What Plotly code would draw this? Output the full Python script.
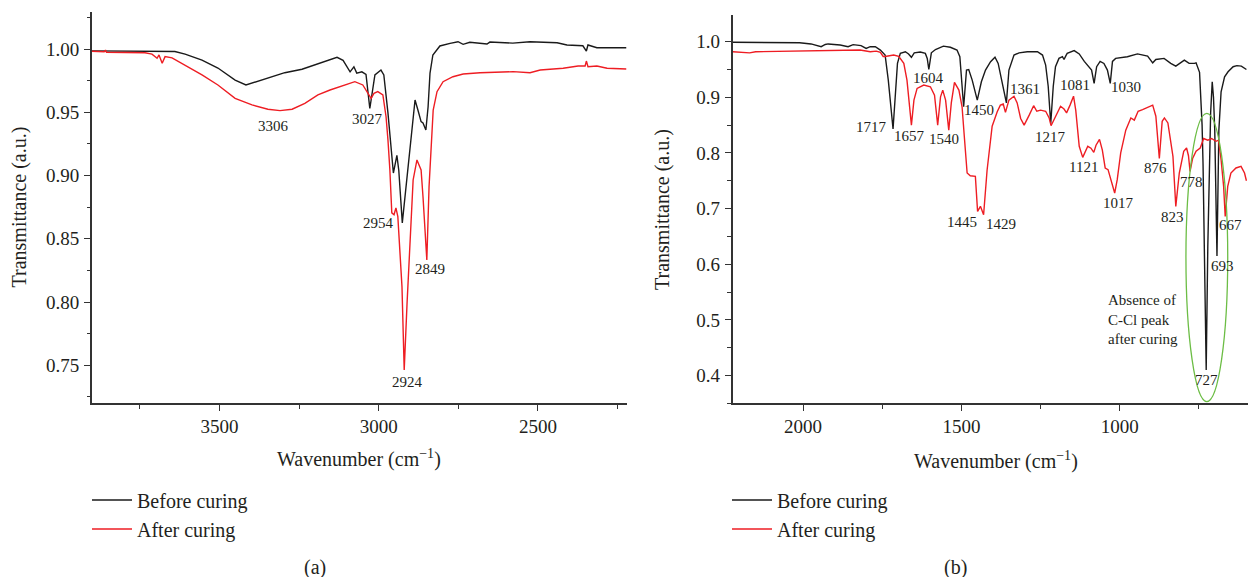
import plotly.graph_objects as go

# ---------------- Panel (a): 3900-2222 cm-1 ----------------
a_before_wn = [3901, 3712, 3640, 3608, 3555, 3505, 3451, 3417, 3348, 3295, 3241, 3191, 3131, 3112,
               3090, 3078, 3069, 3053, 3040, 3028, 3012, 2993, 2984, 2971, 2959, 2954, 2943, 2937,
               2926, 2908, 2886, 2877, 2867, 2861, 2852, 2845, 2839, 2830, 2808, 2776, 2751, 2735,
               2714, 2660, 2651, 2579, 2525, 2440, 2409, 2359, 2348, 2343, 2315, 2222]
a_before_t = [0.9985, 0.9985, 0.998, 0.996, 0.9913, 0.985, 0.9755, 0.9716, 0.977, 0.9813, 0.984, 0.988,
              0.9934, 0.991, 0.982, 0.986, 0.981, 0.982, 0.980, 0.953, 0.9795, 0.9834, 0.9795, 0.9494,
              0.918, 0.902, 0.916, 0.904, 0.8626, 0.904, 0.9597, 0.9518, 0.9426, 0.9415, 0.936, 0.9544,
              0.981, 0.9953, 1.0024, 1.0045, 1.0058, 1.0037, 1.0053, 1.004, 1.0055, 1.0047, 1.0058,
              1.005, 1.0032, 1.0026, 0.9984, 1.0032, 1.001, 1.001]

a_after_wn = [3901, 3862, 3858, 3855, 3734, 3712, 3696, 3690, 3680, 3671, 3649, 3608, 3555, 3505,
              3451, 3398, 3348, 3310, 3272, 3232, 3191, 3153, 3075, 3050, 3037, 3024, 3015, 3003,
              2987, 2977, 2971, 2965, 2959, 2952, 2946, 2940, 2927, 2920, 2911, 2902, 2892, 2880,
              2867, 2861, 2849, 2842, 2833, 2829, 2817, 2798, 2767, 2735, 2682, 2578, 2525, 2493,
              2421, 2374, 2352, 2348, 2343, 2315, 2283, 2222]
a_after_t = [0.9982, 0.9978, 0.9992, 0.9975, 0.997, 0.996, 0.9927, 0.9953, 0.9887, 0.994, 0.993, 0.9874,
             0.9795, 0.9716, 0.961, 0.9558, 0.9524, 0.9513, 0.9524, 0.957, 0.9637, 0.9676, 0.9742,
             0.9716, 0.9663, 0.961, 0.965, 0.9663, 0.9637, 0.9465, 0.928, 0.9044, 0.8705, 0.869,
             0.8744, 0.8675, 0.8122, 0.7464, 0.7994, 0.8517, 0.8965, 0.9123, 0.9044, 0.8833, 0.8333,
             0.8912, 0.9307, 0.9518, 0.9663, 0.9742, 0.9781, 0.9803, 0.9813, 0.9821, 0.9813, 0.9834,
             0.9848, 0.9866, 0.9866, 0.9905, 0.986, 0.9866, 0.9848, 0.9842]

a_peak_labels = ["3306", "3027", "2954", "2849", "2924"]
a_peak_x = [3329, 3036, 3000, 2840, 2910]
a_peak_y = [0.9394, 0.9447, 0.8628, 0.826, 0.7367]

# ---------------- Panel (b): 2222-600 cm-1 ----------------
b_before_wn = [2222, 2100, 2011, 1975, 1955, 1943, 1930, 1921, 1883, 1870, 1858, 1842, 1817, 1801,
               1788, 1772, 1756, 1741, 1731, 1716, 1709, 1702, 1693, 1677, 1667, 1658, 1649, 1630,
               1614, 1608, 1603, 1598, 1595, 1582, 1557, 1535, 1514, 1505, 1498, 1493, 1484, 1477,
               1466, 1450, 1437, 1424, 1408, 1394, 1384, 1377, 1366, 1358, 1350, 1334, 1318, 1292,
               1260, 1244, 1234, 1226, 1218, 1210, 1203, 1192, 1181, 1176, 1170, 1166, 1144, 1128,
               1112, 1097, 1089, 1081, 1073, 1062, 1050, 1039, 1030, 1023, 1013, 976, 944, 912, 896,
               886, 860, 839, 823, 796, 781, 764, 759, 748, 740, 737, 733, 727, 722, 717, 713, 708,
               704, 700, 693, 687, 680, 669, 658, 642, 630, 616, 600]
b_before_t = [0.999, 0.999, 0.998, 0.996, 0.993, 0.991, 0.995, 0.996, 0.994, 0.992, 0.991, 0.9947,
              0.993, 0.988, 0.991, 0.991, 0.985, 0.976, 0.931, 0.843, 0.901, 0.961, 0.979, 0.982,
              0.978, 0.972, 0.980, 0.9815, 0.979, 0.97, 0.950, 0.97, 0.980, 0.986, 0.992, 0.990,
              0.985, 0.973, 0.9195, 0.883, 0.949, 0.950, 0.931, 0.895, 0.928, 0.949, 0.964, 0.972,
              0.961, 0.943, 0.913, 0.890, 0.949, 0.976, 0.980, 0.982, 0.982, 0.976, 0.958, 0.92,
              0.853, 0.92, 0.955, 0.970, 0.973, 0.968, 0.975, 0.979, 0.984, 0.978, 0.9646, 0.955,
              0.949, 0.925, 0.955, 0.9646, 0.961, 0.949, 0.925, 0.9646, 0.970, 0.973, 0.978, 0.974,
              0.962, 0.968, 0.970, 0.961, 0.956, 0.967, 0.961, 0.961, 0.962, 0.945, 0.85, 0.78,
              0.63, 0.41, 0.63, 0.78, 0.872, 0.928, 0.90, 0.841, 0.615, 0.841, 0.910, 0.937, 0.946,
              0.955, 0.957, 0.956, 0.950]

b_after_wn = [2222, 2169, 2150, 2010, 1905, 1820, 1788, 1769, 1756, 1747, 1741, 1714, 1698, 1682,
              1672, 1658, 1650, 1640, 1619, 1598, 1585, 1575, 1566, 1559, 1550, 1540, 1532, 1522,
              1508, 1498, 1491, 1482, 1472, 1456, 1449, 1440, 1430, 1419, 1403, 1387, 1377, 1368,
              1361, 1350, 1334, 1324, 1313, 1302, 1286, 1272, 1262, 1250, 1234, 1223, 1217, 1203,
              1187, 1176, 1168, 1157, 1146, 1139, 1128, 1117, 1101, 1091, 1082, 1075, 1064, 1055,
              1046, 1037, 1027, 1016, 1008, 997, 981, 965, 954, 942, 928, 912, 896, 886, 875, 866,
              859, 848, 832, 823, 812, 798, 789, 783, 778, 770, 759, 746, 735, 722, 710, 696, 688,
              680, 672, 667, 659, 649, 633, 617, 606, 600]
b_after_t = [0.982, 0.980, 0.982, 0.9833, 0.985, 0.985, 0.982, 0.983, 0.981, 0.9735, 0.9735, 0.976,
             0.9735, 0.961, 0.931, 0.850, 0.895, 0.916, 0.922, 0.919, 0.904, 0.850, 0.901, 0.913,
             0.895, 0.841, 0.89, 0.927, 0.913, 0.883, 0.830, 0.764, 0.759, 0.758, 0.695, 0.704,
             0.689, 0.769, 0.848, 0.874, 0.886, 0.888, 0.873, 0.895, 0.902, 0.890, 0.862, 0.850,
             0.868, 0.885, 0.875, 0.877, 0.875, 0.863, 0.849, 0.865, 0.884, 0.879, 0.872, 0.886,
             0.902, 0.877, 0.812, 0.792, 0.812, 0.8085, 0.801, 0.814, 0.8245, 0.805, 0.773, 0.770,
             0.752, 0.728, 0.752, 0.800, 0.841, 0.863, 0.859, 0.875, 0.878, 0.882, 0.886, 0.866,
             0.790, 0.857, 0.863, 0.854, 0.794, 0.704, 0.764, 0.803, 0.809, 0.795, 0.767, 0.790,
             0.803, 0.809, 0.826, 0.823, 0.826, 0.821, 0.823, 0.788, 0.740, 0.686, 0.740, 0.764,
             0.773, 0.776, 0.764, 0.750]

b_peak_labels = ["1717", "1657", "1540", "1604", "1450", "1361", "1081", "1030", "1217", "1445",
                 "1429", "1121", "1017", "876", "823", "778", "667", "693", "727"]
b_peak_x = [1783, 1664, 1555, 1604, 1444, 1299, 1141, 980, 1219, 1499, 1376, 1116, 1003, 888,
            834, 772, 649, 675, 725]
b_peak_y = [0.847, 0.8306, 0.825, 0.934, 0.877, 0.9145, 0.922, 0.918, 0.829, 0.6755, 0.6724,
            0.7754, 0.7096, 0.7725, 0.684, 0.748, 0.671, 0.5975, 0.391]

b_note = "Absence of<br>C-Cl peak<br>after curing"
series_names = ["Before curing", "After curing"]
panel_labels = ["(a)", "(b)"]
x_title = "Wavenumber (cm<sup>−1</sup>)"
y_title = "Transmittance (a.u.)"

W, H = 1252, 577
FONT = "Liberation Serif"
TXT = "#231f20"
BLACK = "#1a1a1a"
RED = "#ee1d23"
GREEN = "#6cbd45"

fig = go.Figure()
fig.add_trace(go.Scatter(x=a_before_wn, y=a_before_t, mode="lines", name=series_names[0],
                         line=dict(color=BLACK, width=1.4), xaxis="x", yaxis="y", legend="legend"))
fig.add_trace(go.Scatter(x=a_after_wn, y=a_after_t, mode="lines", name=series_names[1],
                         line=dict(color=RED, width=1.4), xaxis="x", yaxis="y", legend="legend"))
fig.add_trace(go.Scatter(x=b_before_wn, y=b_before_t, mode="lines", name=series_names[0],
                         line=dict(color=BLACK, width=1.4), xaxis="x2", yaxis="y2", legend="legend2"))
fig.add_trace(go.Scatter(x=b_after_wn, y=b_after_t, mode="lines", name=series_names[1],
                         line=dict(color=RED, width=1.4), xaxis="x2", yaxis="y2", legend="legend2"))

def px2fx(p):
    return p / W

def py2fy(p):
    return 1 - p / H

axis_common = dict(showline=True, linecolor="#333333", linewidth=1.5, ticks="outside", ticklen=6,
                   tickwidth=1.2, tickcolor="#333333", showgrid=False, zeroline=False,
                   tickfont=dict(family=FONT, size=19, color=TXT))
minor_common = dict(ticklen=3.5, ticks="outside", tickcolor="#333333", tick0=0)

fig.update_layout(
    width=W, height=H, margin=dict(l=0, r=0, t=0, b=0),
    paper_bgcolor="white", plot_bgcolor="white",
    xaxis=dict(axis_common, domain=[px2fx(91.8), px2fx(626.5)], range=[3901, 2222],
               tick0=0, dtick=500, anchor="y", ticklabelstandoff=-1,
               minor=dict(minor_common, dtick=250)),
    yaxis=dict(axis_common, domain=[py2fy(403.3), py2fy(11.7)], range=[0.720, 1.0295],
               tick0=0, dtick=0.05, tickformat=".2f", anchor="x", ticklabelstandoff=1,
               minor=dict(minor_common, dtick=0.025)),
    xaxis2=dict(axis_common, domain=[px2fx(732.5), px2fx(1248)], range=[2223, 595],
                tick0=0, dtick=500, anchor="y2", ticklabelstandoff=-1,
                minor=dict(minor_common, dtick=250)),
    yaxis2=dict(axis_common, domain=[py2fy(403.3), py2fy(15)], range=[0.35, 1.048],
                tick0=0, dtick=0.1, tickformat=".1f", anchor="x2", ticklabelstandoff=1,
                minor=dict(minor_common, dtick=0.05)),
    legend=dict(x=px2fx(87), y=py2fy(480.5), xanchor="left", yanchor="top",
                font=dict(family=FONT, size=20, color=TXT), bgcolor="rgba(0,0,0,0)",
                tracegroupgap=0, itemwidth=40),
    legend2=dict(x=px2fx(727), y=py2fy(480.5), xanchor="left", yanchor="top",
                 font=dict(family=FONT, size=20, color=TXT), bgcolor="rgba(0,0,0,0)",
                 tracegroupgap=0, itemwidth=40),
    showlegend=True,
)

ann = []
for t, x, y in zip(a_peak_labels, a_peak_x, a_peak_y):
    ann.append(dict(text=t, x=x, y=y, xref="x", yref="y", showarrow=False,
                    font=dict(family=FONT, size=15, color=TXT)))
for t, x, y in zip(b_peak_labels, b_peak_x, b_peak_y):
    ann.append(dict(text=t, x=x, y=y, xref="x2", yref="y2", showarrow=False,
                    font=dict(family=FONT, size=15, color=TXT)))
ann.append(dict(text=b_note, x=1042, y=0.501, xref="x2", yref="y2", showarrow=False,
                xanchor="left", align="left", font=dict(family=FONT, size=15, color=TXT)))
# axis titles
for cx, cy, txt, ang in [(358.5, 459, x_title, 0), (996, 460, x_title, 0),
                         (19, 207.5, y_title, -90), (662, 210, y_title, -90)]:
    ann.append(dict(text=txt, x=px2fx(cx), y=py2fy(cy), xref="paper", yref="paper",
                    showarrow=False, textangle=ang, xanchor="center", yanchor="middle",
                    font=dict(family=FONT, size=20, color=TXT)))
for cx, t in zip([315, 955], panel_labels):
    ann.append(dict(text=t, x=px2fx(cx), y=py2fy(567), xref="paper", yref="paper",
                    showarrow=False, xanchor="center", yanchor="middle",
                    font=dict(family=FONT, size=20, color=TXT)))
fig.update_layout(annotations=ann)

fig.add_shape(type="circle", xref="x2", yref="y2", x0=791, x1=659, y0=0.353, y1=0.871,
              line=dict(color=GREEN, width=1.3))

fig.write_html("out.html", config={"displayModeBar": False},
               post_script="document.body.style.margin='0';document.body.style.overflow='hidden';")
